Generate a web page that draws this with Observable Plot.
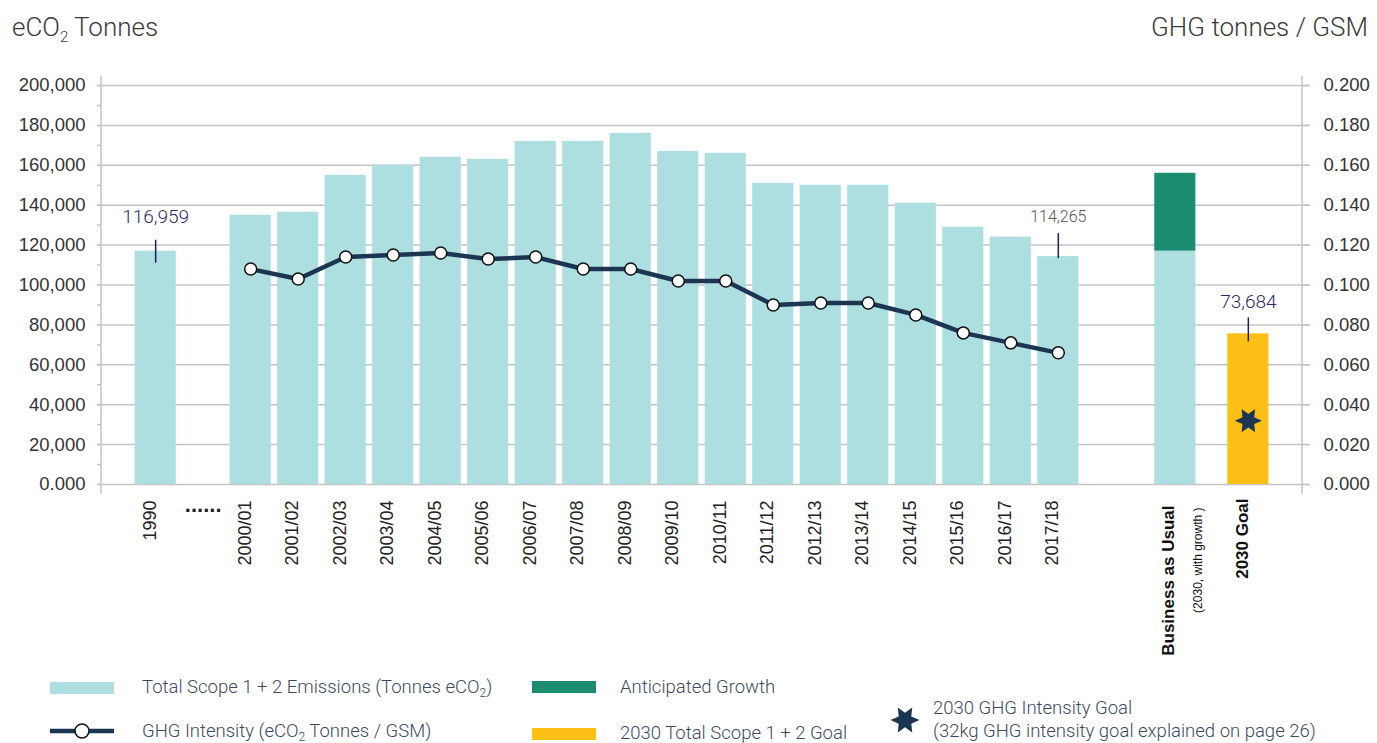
<!DOCTYPE html>
<html>
<head>
<meta charset="utf-8">
<script src="https://cdn.jsdelivr.net/npm/d3@7"></script>
<script src="https://cdn.jsdelivr.net/npm/@observablehq/plot@0.6"></script>
<style>
  html, body { margin: 0; padding: 0; background: #fff; }
  #wrap { position: relative; width: 1377px; height: 743px; overflow: hidden; font-family: Roboto, "Open Sans", sans-serif; }
  .ttl { position: absolute; top: 14px; font-size: 26px; line-height: 26px; font-weight: 300; color: #3a3a3a; white-space: nowrap; }
  .ttl sub { font-size: 15px; vertical-align: -6px; line-height: 0; }
  #chart { position: absolute; left: 0; top: 60px; }
  .leg { position: absolute; font-size: 18.5px; line-height: 22px; font-weight: 300; color: #3b4a63; white-space: nowrap; }
  .leg sub { font-size: 12px; vertical-align: -4px; line-height: 0; }
  .sw { position: absolute; width: 64px; height: 12px; }
  .ico { position: absolute; }
</style>
</head>
<body>
<div id="wrap">
  <div class="ttl" style="left:12px">eCO<sub>2</sub> Tonnes</div>
  <div class="ttl" style="right:9px">GHG tonnes / GSM</div>
  <div id="chart"></div>

  <div class="sw" style="left:50px;top:682px;background:#aedfe0"></div>
  <div class="leg" style="left:142px;top:676px">Total Scope 1 + 2 Emissions (Tonnes eCO<sub>2</sub>)</div>
  <svg class="ico" style="left:50px;top:721px" width="64" height="20">
    <line x1="0" x2="64" y1="10" y2="10" stroke="#1c3553" stroke-width="4.5"></line>
    <circle cx="32" cy="10" r="7" fill="#fff" stroke="#111" stroke-width="1.5"></circle>
  </svg>
  <div class="leg" style="left:142px;top:720px">GHG Intensity (eCO<sub>2</sub> Tonnes / GSM)</div>

  <div class="sw" style="left:532px;top:681px;background:#1b8c6f"></div>
  <div class="leg" style="left:620px;top:676px">Anticipated Growth</div>
  <div class="sw" style="left:532px;top:728px;background:#fbbf15"></div>
  <div class="leg" style="left:620px;top:722px">2030 Total Scope 1 + 2 Goal</div>

  <svg class="ico" id="legstar" style="left:888px;top:704px" width="34" height="32"></svg>
  <div class="leg" style="left:933px;top:697px">2030 GHG Intensity Goal</div>
  <div class="leg" style="left:933px;top:720px">(32kg GHG intensity goal explained on page 26)</div>
</div>
<script>
// ---------------- data ----------------
const categories = ["1990", "2000/01", "2001/02", "2002/03", "2003/04", "2004/05", "2005/06", "2006/07",
  "2007/08", "2008/09", "2009/10", "2010/11", "2011/12", "2012/13", "2013/14", "2014/15",
  "2015/16", "2016/17", "2017/18"];
const emissions = [116959, 135000, 136500, 155000, 160000, 164000, 163000, 172000,
  172000, 176000, 167000, 166000, 151000, 150000, 150000, 141000,
  129000, 124000, 114265];

const intensityYears = ["2000/01", "2001/02", "2002/03", "2003/04", "2004/05", "2005/06", "2006/07",
  "2007/08", "2008/09", "2009/10", "2010/11", "2011/12", "2012/13", "2013/14", "2014/15",
  "2015/16", "2016/17", "2017/18"];
const intensity = [0.108, 0.103, 0.114, 0.115, 0.116, 0.113, 0.114,
  0.108, 0.108, 0.102, 0.102, 0.090, 0.091, 0.091, 0.085,
  0.076, 0.071, 0.066];

const bauLabel = "Business as Usual";
const bauSubLabel = "(2030, with growth )";
const bauBase = 116959;
const bauTotal = 156000;
const goalLabel = "2030 Goal";
const goalValue = 75500;
const goalText = "73,684";
const intensityGoal = 0.032;

const leftTicks = d3.range(0, 200001, 10000);
const majorTicks = d3.range(0, 200001, 20000);
const gapLabel = "......";

// ---------------- helpers ----------------
const TEAL = "#aedfe0", GREEN = "#1b8c6f", GOLD = "#fbbf15", NAVY = "#1c3553", GRID = "#c4c4c4";
const xDomain = ["1990", "gap0", ...categories.slice(1), "gap1", "BAU", "gap2", "GOAL"];
const BAU_DX = 22;

const star6 = {
  draw(ctx, size) {
    const R = Math.sqrt(size / Math.PI), r = R * 0.5;
    for (let k = 0; k < 12; k++) {
      const a = k * Math.PI / 6;
      const rr = k % 2 ? r : R;
      const px = rr * Math.cos(a), py = rr * Math.sin(a);
      if (k === 0) ctx.moveTo(px, py); else ctx.lineTo(px, py);
    }
    ctx.closePath();
  }
};

const emissionRows = categories.map((c, i) => ({cat: c, v: emissions[i]}));
const intensityRows = intensityYears.map((c, i) => ({cat: c, v: intensity[i] * 1e6}));

function axisLines(index, scales, values, dims) {
  const g = d3.create("svg:g").attr("stroke", GRID).attr("stroke-width", 1.5);
  const y0 = scales.y(0) + 10, y1 = scales.y(200000) - 9;
  const xl = dims.marginLeft, xr = dims.width - dims.marginRight;
  g.append("line").attr("x1", xl).attr("x2", xl).attr("y1", y0).attr("y2", y1);
  g.append("line").attr("x1", xr).attr("x2", xr).attr("y1", y0).attr("y2", y1);
  return g.node();
}

const chart = Plot.plot({
  width: 1377,
  height: 610,
  marginLeft: 101,
  marginRight: 75,
  marginTop: 25,
  marginBottom: 186,
  style: {fontFamily: "'Liberation Sans', Arial, sans-serif", fontSize: "18.5px", color: "#333", background: "transparent", overflow: "visible"},
  x: {type: "band", domain: xDomain, paddingInner: 0.134, paddingOuter: 0.707, round: false, axis: null},
  y: {domain: [0, 200000], axis: null},
  marks: [
    Plot.ruleY(majorTicks, {stroke: GRID, strokeWidth: 1.5, insetLeft: -4, insetRight: -7}),
    Plot.barY(emissionRows, {x: "cat", y: "v", fill: TEAL}),
    Plot.barY([bauBase], {x: () => "BAU", y1: 0, y2: d => d, fill: TEAL, dx: BAU_DX}),
    Plot.barY([bauTotal], {x: () => "BAU", y1: () => bauBase, y2: d => d, fill: GREEN, dx: BAU_DX}),
    Plot.barY([goalValue], {x: () => "GOAL", y: d => d, fill: GOLD}),
    axisLines,
    Plot.axisY(leftTicks, {anchor: "left", label: null, tickSize: 4, tickPadding: 12, stroke: GRID, strokeWidth: 1.5, fill: "#333",
      tickFormat: d => d % 20000 ? "" : (d === 0 ? "0.000" : d3.format(",")(d))}),
    Plot.axisY(majorTicks, {anchor: "right", label: null, tickSize: 7, tickPadding: 14, stroke: GRID, strokeWidth: 1.5, fill: "#333",
      tickFormat: d => (d / 1e6).toFixed(3)}),
    Plot.line(intensityRows, {x: "cat", y: "v", stroke: NAVY, strokeWidth: 4.5}),
    Plot.dot(intensityRows, {x: "cat", y: "v", r: 6, fill: "#fff", stroke: "#111", strokeWidth: 1.5}),
    Plot.dot([intensityGoal], {x: () => "GOAL", y: d => d * 1e6, symbol: star6, r: 13.5, fill: NAVY, stroke: null}),
    // annotations
    Plot.ruleX([emissions[0]], {x: () => "1990", y1: d => d, y2: d => d, insetTop: 12, insetBottom: 11, stroke: "#1f1f5c", strokeWidth: 1.5}),
    Plot.text([emissions[0]], {x: () => "1990", y: d => d, text: d => d3.format(",")(d), dy: -34, fontSize: 19, fontFamily: "Roboto, sans-serif", fontWeight: 300, fill: "#2b2b6b"}),
    Plot.ruleX([emissions[emissions.length - 1]], {x: () => "2017/18", y1: d => d, y2: d => d, insetTop: 2, insetBottom: 23, stroke: "#1f1f5c", strokeWidth: 1.5}),
    Plot.text([emissions[emissions.length - 1]], {x: () => "2017/18", y: d => d, text: d => d3.format(",")(d), dy: -40, fontSize: 16, fontFamily: "Roboto, sans-serif", fontWeight: 300, fill: "#555"}),
    Plot.ruleX([goalValue], {x: () => "GOAL", y1: d => d, y2: d => d, insetTop: 8, insetBottom: 16, stroke: "#1f1f5c", strokeWidth: 1.5}),
    Plot.text([goalValue], {x: () => "GOAL", y: d => d, text: () => goalText, dy: -32, fontSize: 19, fontFamily: "Roboto, sans-serif", fontWeight: 300, fill: "#2b2b6b"}),
    // x labels
    Plot.text(categories, {x: d => d, frameAnchor: "bottom", dy: 16, rotate: -90, textAnchor: "end", fontSize: 18, fill: "#222"}),
    Plot.text([gapLabel], {x: () => "gap0", frameAnchor: "bottom", dy: 27, fontSize: 22, fontWeight: "bold", fill: "#222"}),
    Plot.text([bauLabel], {x: () => "BAU", frameAnchor: "bottom", dy: 21, dx: BAU_DX - 1, rotate: -90, textAnchor: "end", fontSize: 17, fontWeight: "bold", fill: "#111"}),
    Plot.text([bauSubLabel], {x: () => "BAU", frameAnchor: "bottom", dy: 23, dx: BAU_DX + 27, rotate: -90, textAnchor: "end", fontSize: 12, fill: "#111"}),
    Plot.text([goalLabel], {x: () => "GOAL", frameAnchor: "bottom", dy: 14, rotate: -90, textAnchor: "end", fontSize: 17, fontWeight: "bold", fill: "#111"})
  ]
});
document.getElementById("chart").appendChild(chart);

// legend star drawn with the same symbol
const ls = d3.select("#legstar");
const p = d3.path(); star6.draw(p, Math.PI * 14.5 * 14.5);
ls.append("path").attr("transform", "translate(17,16)").attr("d", p.toString()).attr("fill", NAVY);
</script>
</body>
</html>
